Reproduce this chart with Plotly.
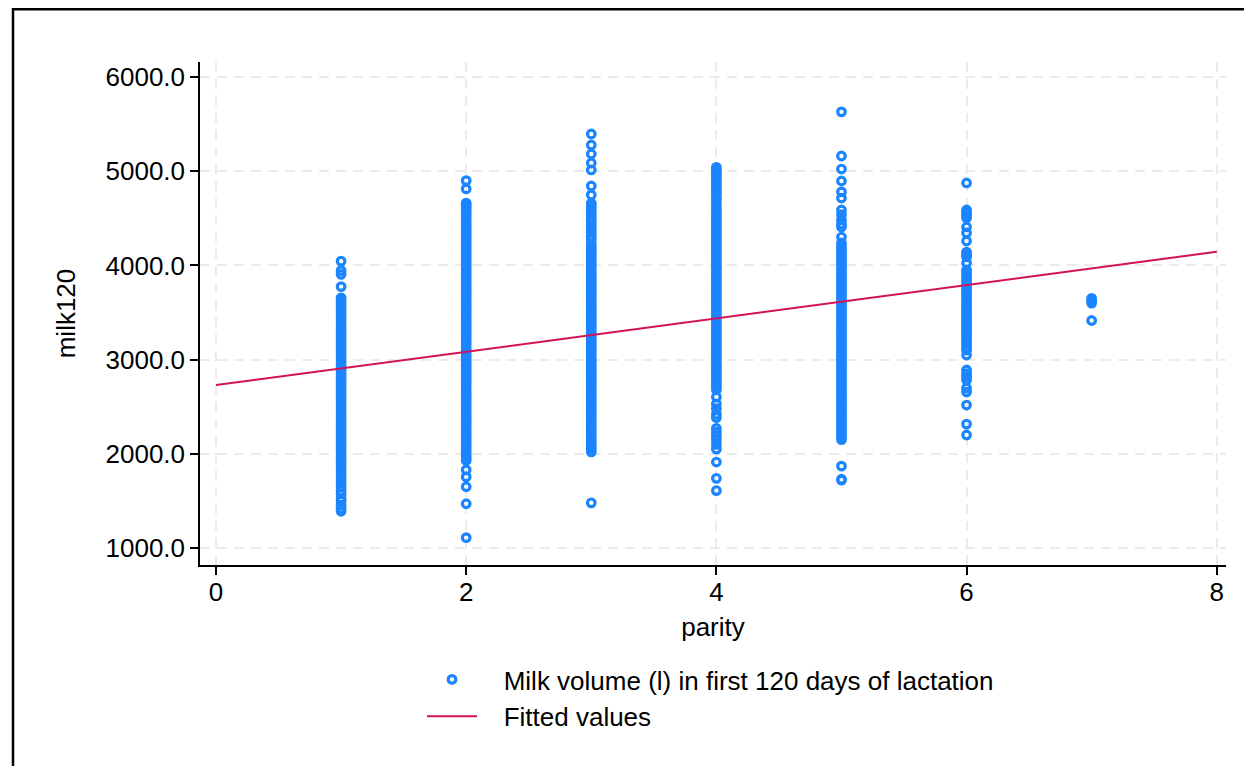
import plotly.graph_objects as go

# ---- data (milk120 by parity) ----
parity1 = [4045, 3945, 3905, 3775,
           3655, 3628, 3601, 3570, 3542, 3511, 3480, 3452, 3420, 3391, 3362, 3330, 3301, 3270, 3243, 3212,
           3181, 3150, 3122, 3090, 3061, 3030, 3002, 2971, 2940, 2912, 2881, 2850, 2822, 2790, 2761, 2730,
           2702, 2671, 2640, 2612, 2581, 2550, 2521, 2490, 2462, 2431, 2400, 2372, 2341, 2310, 2282, 2251,
           2220, 2192, 2161, 2130, 2101, 2070, 2042, 2011, 1980, 1952, 1921, 1893,
           1860, 1830, 1790, 1755, 1718, 1690, 1650, 1610, 1575, 1530, 1500, 1456, 1420, 1390]
parity2 = [4900, 4812, 4662, 4640, 4615, 4590, 4560, 4535, 4500, 4470, 4440, 4410, 4385, 4355, 4325, 4300,
           4268, 4236, 4205, 4172, 4140, 4110, 4078, 4046, 4015, 3982, 3950, 3920, 3888, 3856, 3825, 3792,
           3760, 3730, 3698, 3666, 3635, 3602, 3570, 3540, 3508, 3476, 3445, 3412, 3380, 3350, 3318, 3286,
           3255, 3222, 3190, 3160, 3128, 3096, 3065, 3032, 3000, 2970, 2938, 2906, 2875, 2842, 2810, 2780,
           2748, 2716, 2685, 2652, 2620, 2590, 2558, 2526, 2495, 2462, 2430, 2400, 2368, 2336, 2305, 2272,
           2240, 2210, 2178, 2146, 2115, 2082, 2050, 2020, 1988, 1956, 1930,
           1830, 1755, 1650, 1470, 1110]
parity3 = [5395, 5278, 5183, 5087, 5013, 4843, 4748, 4660, 4635, 4605, 4570, 4530, 4495, 4460, 4420, 4385,
           4350, 4310, 4275, 4230,
           4195, 4163, 4131, 4100, 4068, 4036, 4005, 3972, 3940, 3910, 3878, 3846, 3815, 3782, 3750, 3720,
           3688, 3656, 3625, 3592, 3560, 3530, 3498, 3466, 3435, 3402, 3370, 3340, 3308, 3276, 3245, 3212,
           3180, 3150, 3118, 3086, 3055, 3022, 2990, 2960, 2928, 2896, 2865, 2832, 2800, 2770, 2738, 2706,
           2675, 2642, 2610, 2580, 2548, 2516, 2485, 2452, 2420, 2390, 2360,
           2320, 2285, 2250, 2215, 2180, 2145, 2110, 2075, 2050, 2020, 1480]
parity4 = [5040, 5010, 4985, 4955, 4920, 4890, 4860, 4825, 4790, 4760, 4720, 4690, 4650, 4610, 4580, 4545,
           4510, 4480, 4450,
           4420, 4388, 4356, 4325, 4292, 4260, 4230, 4198, 4166, 4135, 4102, 4070, 4040, 4008, 3976, 3945,
           3912, 3880, 3850, 3818, 3786, 3755, 3722, 3690, 3660, 3628, 3596, 3565, 3532, 3500, 3470, 3438,
           3406, 3375, 3342, 3310, 3280, 3248, 3216, 3185, 3152, 3120, 3090, 3058, 3026, 2995, 2962, 2930,
           2900, 2868, 2836, 2805, 2772, 2740, 2710, 2680,
           2603, 2530, 2480, 2420, 2385, 2270, 2230, 2190, 2150, 2100, 2050, 1913, 1740, 1610]
parity5 = [5630, 5161, 5023, 4896, 4780, 4715, 4588, 4540, 4480, 4440, 4408, 4301,
           4238, 4206, 4174, 4143, 4110, 4078, 4048, 4016, 3984, 3953, 3920, 3888, 3858, 3826, 3794, 3763,
           3730, 3698, 3668, 3636, 3604, 3573, 3540, 3508, 3478, 3446, 3414, 3383, 3350, 3318, 3288, 3256,
           3224, 3193, 3160, 3128, 3098, 3066, 3034, 3003, 2970, 2938, 2908, 2876, 2844, 2813, 2780, 2748,
           2718, 2686, 2654, 2623, 2590, 2558, 2528, 2496, 2464, 2433, 2400, 2368, 2338, 2306, 2274, 2243,
           2210, 2178, 2150,
           1870, 1730, 1720]
parity6 = [4875, 4588, 4560, 4530, 4503, 4408, 4344, 4259, 4142, 4115, 4090, 4025,
           3951, 3920, 3888, 3856, 3825, 3792, 3760, 3730, 3698, 3666, 3635, 3602, 3570, 3540, 3508, 3476,
           3445, 3412, 3380, 3350, 3318, 3286, 3255, 3222, 3190, 3160, 3128, 3102,
           3049, 2890, 2850, 2820, 2783, 2698, 2656, 2518, 2316, 2200]
parity7 = [3650, 3625, 3600, 3415]

milk_by_parity = {1: parity1, 2: parity2, 3: parity3, 4: parity4, 5: parity5, 6: parity6, 7: parity7}

fitted_x = [0, 8]
fitted_y = [2730, 4145]

y_ticks = [1000, 2000, 3000, 4000, 5000, 6000]
x_ticks = [0, 2, 4, 6, 8]

scatter_x = []
scatter_y = []
for p, vals in milk_by_parity.items():
    scatter_x += [p] * len(vals)
    scatter_y += vals

BLUE = "#1A85FF"
RED = "#D41159"
FONT = "Liberation Sans, Arial, Helvetica, sans-serif"
FS = 26

fig = go.Figure()
fig.add_trace(go.Scatter(
    x=scatter_x, y=scatter_y, mode="markers",
    name="\u00a0\u00a0\u00a0Milk volume (l) in first 120 days of lactation",
    marker=dict(symbol="circle-open", size=7.6, color=BLUE, line=dict(width=3.2, color=BLUE)),
))
fig.add_trace(go.Scatter(
    x=fitted_x, y=fitted_y, mode="lines", name="\u00a0\u00a0\u00a0Fitted values",
    line=dict(color=RED, width=2),
))

# the page keeps an 8px body margin; the figure is sized so the page never overflows,
# and positions are worked out in screen pixels then converted
OFF = 8
W, H = 1244, 758
sL, sR, sT, sB = 200, 1226, 62, 565   # plot area in screen pixels
L, T = sL - OFF, sT - OFF
R = W - (sR - OFF)
B = H - (sB - OFF)
pw, ph = W - L - R, H - T - B

def px(sx):
    return (sx - OFF - L) / pw

def py(sy):
    return (H - B - (sy - OFF)) / ph

axis_common = dict(
    showline=True, linecolor="black", linewidth=1.5,
    ticks="outside", ticklen=8, tickwidth=1.5, tickcolor="black",
    showgrid=True, gridcolor="#ebebeb", gridwidth=1.8, griddash="10px,7px",
    zeroline=False, mirror=False,
    tickfont=dict(size=FS, color="black", family=FONT),
    title_font=dict(size=FS, color="black", family=FONT),
)

fig.update_xaxes(range=[-0.128, 8.074], tickvals=x_ticks, title_text="parity",
                 title_standoff=12, ticklabelstandoff=-5, **axis_common)
fig.update_yaxes(range=[820, 6159], tickvals=y_ticks, tickformat=".1f", title_text="milk120",
                 title_standoff=22, **axis_common)

# outer frame (top and left edges visible in the reference)
fig.add_shape(type="line", xref="paper", yref="paper",
              x0=px(12), x1=px(1270), y0=py(9.2), y1=py(9.2),
              line=dict(color="black", width=2.5), layer="below")
fig.add_shape(type="line", xref="paper", yref="paper",
              x0=px(13), x1=px(13), y0=py(8), y1=py(800),
              line=dict(color="black", width=2.5), layer="below")

fig.update_layout(
    width=W, height=H,
    margin=dict(l=L, r=R, t=T, b=B),
    paper_bgcolor="white", plot_bgcolor="white",
    font=dict(family=FONT, size=FS, color="black"),
    showlegend=True,
    legend=dict(x=px(422), y=py(656), xanchor="left", yanchor="top",
                font=dict(size=FS, family=FONT, color="black"),
                bgcolor="rgba(0,0,0,0)", itemwidth=50, tracegroupgap=0),
)

fig.write_html("out.html", config={"displayModeBar": False})
